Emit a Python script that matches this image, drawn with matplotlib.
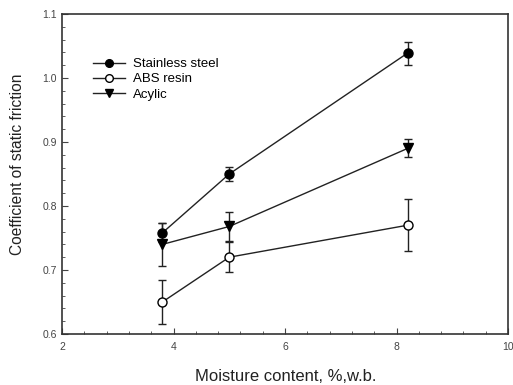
import numpy as np
import matplotlib.pyplot as plt
from matplotlib.ticker import MultipleLocator

plt.rcParams['font.family'] = ['Liberation Sans', 'DejaVu Sans']

moisture = [3.8, 5.0, 8.2]
steel = [0.758, 0.850, 1.039]
steel_err = [0.015, 0.011, 0.018]
abs_resin = [0.650, 0.720, 0.770]
abs_err = [0.035, 0.023, 0.041]
acylic = [0.740, 0.768, 0.890]
acylic_err = [0.034, 0.022, 0.014]

fig = plt.figure(figsize=(5.13, 3.85), dpi=100)
ax = fig.add_axes([62 / 513, 1 - 334 / 385, 446 / 513, 320 / 385])

common = dict(color='#222222', lw=1.0, capsize=3, capthick=1.0, elinewidth=1.0, ms=6.5)
ax.errorbar(moisture, steel, yerr=steel_err, marker='o', mfc='black', mec='black',
            label='Stainless steel', **common)
ax.errorbar(moisture, abs_resin, yerr=abs_err, marker='o', mfc='white', mec='black',
            label='ABS resin', **common)
ax.errorbar(moisture, acylic, yerr=acylic_err, marker='v', mfc='black', mec='black',
            label='Acylic', **common)

ax.set_xlim(2, 10)
ax.set_ylim(0.6, 1.1)
ax.xaxis.set_major_locator(MultipleLocator(2))
ax.xaxis.set_minor_locator(MultipleLocator(0.4))
ax.yaxis.set_major_locator(MultipleLocator(0.1))
ax.yaxis.set_minor_locator(MultipleLocator(0.02))
ax.yaxis.set_major_formatter(plt.FuncFormatter(lambda v, p: f'{v:.1f}'))
ax.tick_params(which='both', direction='in', labelsize=7.5, colors='#444444')
ax.tick_params(which='major', length=4)
ax.tick_params(which='minor', length=2)
ax.tick_params(axis='x', pad=6)
for s in ax.spines.values():
    s.set_linewidth(1.2)
    s.set_color('#333333')

ax.set_xlabel('Moisture content, %,w.b.', fontsize=12, color='#222222', va='top')
ax.xaxis.set_label_coords(0.502, -0.11)
ax.set_ylabel('Coefficient of static friction', fontsize=11.2, color='#222222')
ax.yaxis.set_label_coords(-0.082, 0.53)

handles, labels = ax.get_legend_handles_labels()
handles = [h[0] for h in handles]
ax.legend(handles, labels, loc='upper left', bbox_to_anchor=(0.0695, 0.8625), frameon=False,
          fontsize=9.5, handlelength=2.4, labelspacing=0.22, borderpad=0, handletextpad=0.6,
          borderaxespad=0, markerscale=0.85)

fig.savefig('out.png', dpi=100)
